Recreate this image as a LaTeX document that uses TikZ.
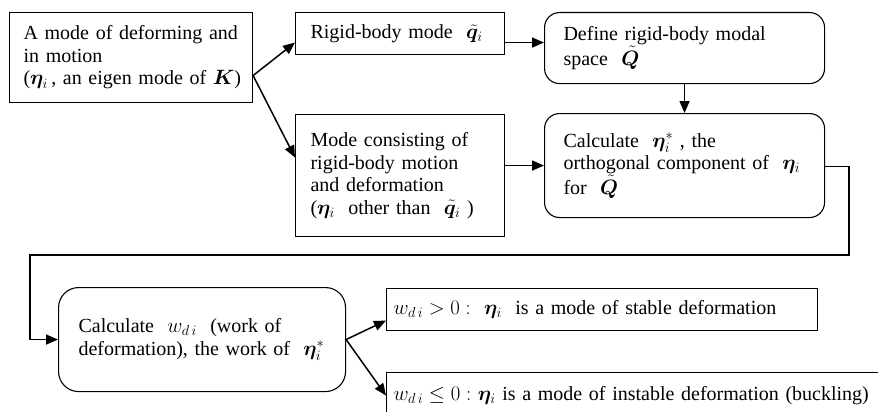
\documentclass[tikz,border=0pt]{standalone}
\usepackage{fontspec}
\usepackage{amsmath,bm}
\setmainfont{Liberation Serif}
\usetikzlibrary{arrows.meta,calc}
\tikzset{
  box/.style={draw, line width=1.1pt, anchor=north west, align=left, font=\fontsize{20}{22.5}\selectfont},
  rbox/.style={box, rounded corners=15pt},
  conn/.style={line width=1.5pt, -{Triangle[length=12pt,width=10pt]}},
}
\newcommand\etab{\bm{\eta}}
\begin{document}
\begin{tikzpicture}[x=1pt,y=-1pt]
\useasboundingbox (0,0) rectangle (878,412);
\clip (0,0) rectangle (878,412);
% boxes
\node[box, inner xsep=14pt, text width=215pt, minimum height=90pt] (A) at (9,12)
  {\mbox{A mode of deforming and}\\ in motion\\ \mbox{($\etab_i$\,, an eigen mode of $\bm{K}$)}};
\node[box, inner xsep=15pt, text width=179pt, minimum height=42pt] (B) at (295,12)
  {\mbox{Rigid-body mode \ $\tilde{\bm{q}}_i$}};
\node[rbox, inner xsep=19pt, text width=242pt, minimum height=71pt] (C) at (544,12)
  {\mbox{Define rigid-body modal}\\ space \ $\tilde{\bm{Q}}$};
\node[box, inner xsep=15pt, text width=179pt, minimum height=122pt] (D) at (295,114)
  {\mbox{Mode consisting of}\\ \mbox{rigid-body motion}\\ \mbox{and deformation}\\ \mbox{($\etab_i$ \ other than \ $\tilde{\bm{q}}_i$ )}};
\node[rbox, inner xsep=19pt, text width=242pt, minimum height=104pt] (E) at (544,113)
  {\mbox{Calculate \ $\etab_i^{*}$ , the}\\ \mbox{orthogonal component of \ $\etab_i$}\\ for \ $\tilde{\bm{Q}}$\\[6pt]};
\node[rbox, rounded corners=20pt, inner xsep=20pt, text width=247pt, minimum height=104pt] (F) at (58,287)
  {\mbox{Calculate \ $w_{d\,i}$ \ (work of}\\ \mbox{deformation), the work of \ $\etab_i^{*}$}};
\node[box, inner xsep=7pt, text width=417pt, minimum height=42pt] (G) at (386,288)
  {\mbox{$w_{d\,i}>0:$ \ $\etab_i$ \ is a mode of stable deformation}};
\node[box, inner xsep=7pt, text width=500pt, minimum height=46pt] (H) at (386,372)
  {\mbox{$w_{d\,i}\le 0:$ $\etab_i$ is a mode of instable deformation (buckling)}};
% connectors
\coordinate (Ao) at ([yshift=-18pt]A.east);
\draw[conn] (Ao) -- ([yshift=-9pt]B.west);
\draw[conn] (Ao) -- ([yshift=18pt]D.west);
\coordinate (Bo) at ([yshift=-9pt]B.east);
\draw[conn] (Bo) -- (Bo -| C.west);
\draw[conn] (C.south) -- (E.north);
\draw[conn] (D.east |- E.west) -- (E.west);
\coordinate (Eo) at ([yshift=-1pt]E.east);
\coordinate (t1) at (849,255);
\coordinate (t2) at (30,255);
\draw[conn] (Eo) -- (Eo -| t1) -- (t1) -- (t2) -- (t2 |- F.west) -- (F.west);
\draw[conn] (F.east) -- ([yshift=-11pt]G.west);
\draw[conn] (F.east) -- (H.west);
\end{tikzpicture}
\end{document}
